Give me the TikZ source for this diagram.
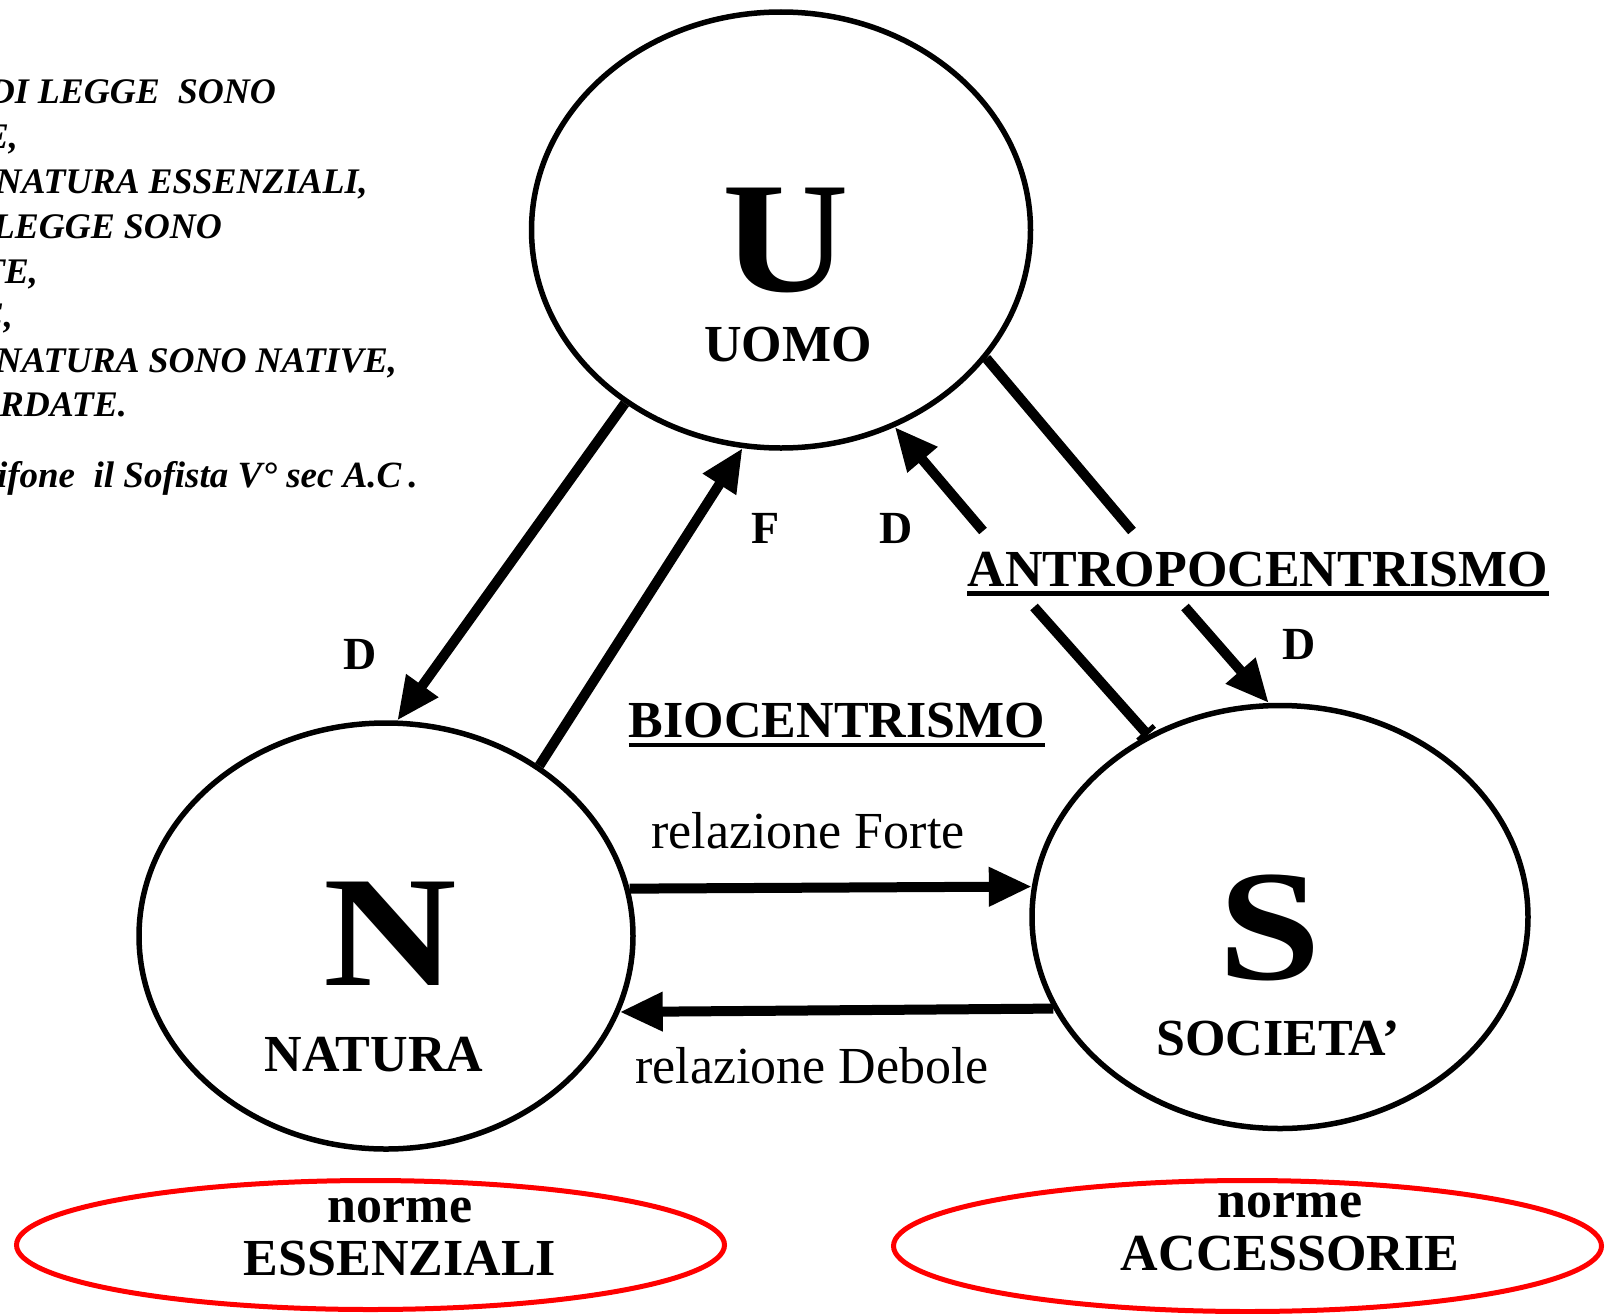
\documentclass[tikz,border=0pt]{standalone}
\usepackage{fontspec}
\usepackage{graphicx}
\setmainfont{Liberation Serif}
\usetikzlibrary{shapes.geometric,arrows.meta}
\begin{document}
\begin{tikzpicture}[x=1pt,y=1pt,
  circ/.style={draw, ellipse, line width=5.5pt, inner sep=0pt},
  redell/.style={draw=red, ellipse, line width=5pt, inner sep=0pt},
  bigletter/.style={font=\fontsize{158}{158}\selectfont\bfseries, inner sep=0pt, anchor=base},
  captext/.style={font=\fontsize{52}{52}\selectfont\bfseries, inner sep=0pt, anchor=base},
  arrlbl/.style={font=\fontsize{46}{46}\selectfont\bfseries, inner sep=0pt, anchor=base},
  reltext/.style={font=\fontsize{52}{52}\selectfont, inner sep=0pt, anchor=base},
  quoteline/.style={font=\fontsize{36}{36}\selectfont\bfseries\itshape, inner sep=0pt, anchor=base east},
  bigarrow/.style={line width=10pt, -{Triangle[length=43pt,width=37pt]}},
  plainline/.style={line width=10pt}]
\useasboundingbox (0,0) rectangle (1606,-1314);
\clip (0,0) rectangle (1606,-1314);
\fill[white] (0,0) rectangle (1606,-1314);

% main ellipses
\node[circ, minimum width=499pt, minimum height=436pt] (U) at (781,-230) {};
\node[circ, minimum width=494pt, minimum height=426pt] (N) at (386,-936) {};
\node[circ, minimum width=496pt, minimum height=423pt] (S) at (1280,-917) {};
\node[redell, minimum width=708pt, minimum height=129pt] (RE) at (370.5,-1245) {};
\node[redell, minimum width=708pt, minimum height=131pt] (RA) at (1247.5,-1246) {};

% letters and names
\node[bigletter] (Ul) at (786,-291) {\scalebox{1.11}[1]{U}};
\node[captext] (Un) at (788,-361) {UOMO};
\node[bigletter] (Nl) at (390,-985) {\scalebox{1.17}[1]{N}};
\node[captext] (Nn) at (374,-1071) {NATURA};
\node[bigletter] (Sl) at (1270,-979) {\scalebox{1.17}[1]{S}};
\node[captext] (Sn) at (1278,-1055) {SOCIETA’};

% arrow labels
\node[arrlbl] (lF) at (766,-543) {F};
\node[arrlbl] (lD1) at (896,-543) {D};
\node[arrlbl] (lD2) at (360,-669) {D};
\node[arrlbl] (lD3) at (1299,-659) {D};

% headings
\node[captext] (bio) at (837,-737) {BIOCENTRISMO};
\draw[line width=4pt] ([yshift=-8pt]bio.base west) -- ([yshift=-8pt]bio.base east);
\node[captext] (antro) at (1258,-586) {ANTROPOCENTRISMO};
\draw[line width=5pt] ([yshift=-7pt]antro.base west) -- ([yshift=-7pt]antro.base east);

\node[reltext] (rf) at (808,-848) {relazione Forte};
\node[reltext] (rd) at (812,-1083) {relazione Debole};

\node[captext] (n1) at (400,-1222) {norme};
\node[captext] (e1) at (400,-1275) {ESSENZIALI};
\node[captext] (n2) at (1290,-1217) {norme};
\node[captext] (a2) at (1290,-1270) {ACCESSORIE};

% quotation (cut at the left border)
\node[quoteline] (q1) at (276,-103) {DI LEGGE\ \ SONO};
\node[quoteline] (q2) at (18,-148) {E,};
\node[quoteline] (q3) at (368,-193) {NATURA ESSENZIALI,};
\node[quoteline] (q4) at (222,-238) {LEGGE SONO};
\node[quoteline] (q5) at (38,-283) {TE,};
\node[quoteline] (q6) at (13,-327) {E,};
\node[quoteline] (q7) at (397,-372) {NATURA SONO NATIVE,};
\node[quoteline] (q8) at (127,-416) {RDATE.};
\node[quoteline, font=\fontsize{37}{37}\selectfont\bfseries\itshape] (q9) at (417,-487) {ifone\ \ il Sofista V° sec A.C{\upshape\,.}};

% connectors
\draw[bigarrow] (U.228.5) -- (N.87);
\draw[bigarrow] (N.48.2) -- (U.260.6);
\coordinate (d1) at (983,-531);
\draw[bigarrow] (d1) -- (U.300.3);
\coordinate (t1) at (1132,-531);
\draw[plainline] (U.328) -- (t1);
\coordinate (t2) at (1034,-607);
\draw[plainline, -{Bar[width=22pt,line width=5pt]}] (t2) -- (S.126.2);
\coordinate (d2) at (1185,-607);
\draw[bigarrow] (d2) -- (S.93.5);
\draw[bigarrow] (N.11.2) -- (S.173.2);
\draw[bigarrow] (S.202.2) -- (N.342);
\end{tikzpicture}
\end{document}
